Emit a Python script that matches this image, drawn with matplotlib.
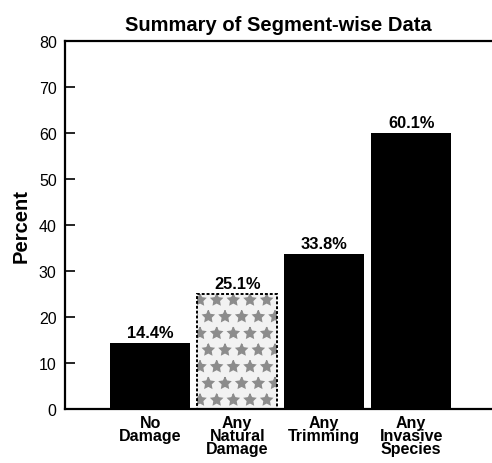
import matplotlib
matplotlib.use("Agg")
import matplotlib.pyplot as plt

categories = ["No\nDamage", "Any\nNatural\nDamage", "Any\nTrimming", "Any\nInvasive\nSpecies"]
values = [14.4, 25.1, 33.8, 60.1]
value_labels = ["14.4%", "25.1%", "33.8%", "60.1%"]
yticks = [0, 10, 20, 30, 40, 50, 60, 70, 80]

plt.rcParams['font.family'] = ['Liberation Sans', 'DejaVu Sans']
plt.rcParams['hatch.linewidth'] = 1.0

fig = plt.figure(figsize=(4.92, 4.64), dpi=100)
ax = fig.add_axes([65/492, 1-410/464, 1-65/492, 368/464])

x = list(range(len(values)))
w = 0.92
for i, v in enumerate(values):
    if i == 1:
        ax.bar(i, v, width=w, color='#f2f2f2', edgecolor='#8c8c8c', hatch='*', linewidth=0, zorder=2)
        ax.bar(i, v, width=w, fill=False, edgecolor='black', linewidth=1.4, linestyle=(0, (1.5, 1)), zorder=3)
    else:
        ax.bar(i, v, width=w, color='black', edgecolor='black', linewidth=0, zorder=2)
    ax.text(i, v + 0.5, value_labels[i], ha='center', va='bottom', fontsize=11.8, fontweight='bold')

ax.set_xlim(-0.98, 3.93)
ax.set_ylim(0, 80)
ax.set_yticks(yticks)
ax.set_yticklabels([str(t) for t in yticks], fontsize=11.5)
ax.tick_params(axis='y', direction='in', length=7, width=1.2, pad=6)
ax.set_xticks(x)
ax.set_xticklabels(categories, fontsize=11.5, fontweight='bold', linespacing=0.85)
ax.tick_params(axis='x', length=0, pad=4)

ax.spines['right'].set_visible(False)
for s in ['left', 'bottom', 'top']:
    ax.spines[s].set_linewidth(1.6)

ax.set_ylabel("Percent", fontsize=14.5, fontweight='bold', labelpad=6)
ax.set_title("Summary of Segment-wise Data", fontsize=14.5, fontweight='bold', pad=8)

fig.savefig("out.png", dpi=100)
